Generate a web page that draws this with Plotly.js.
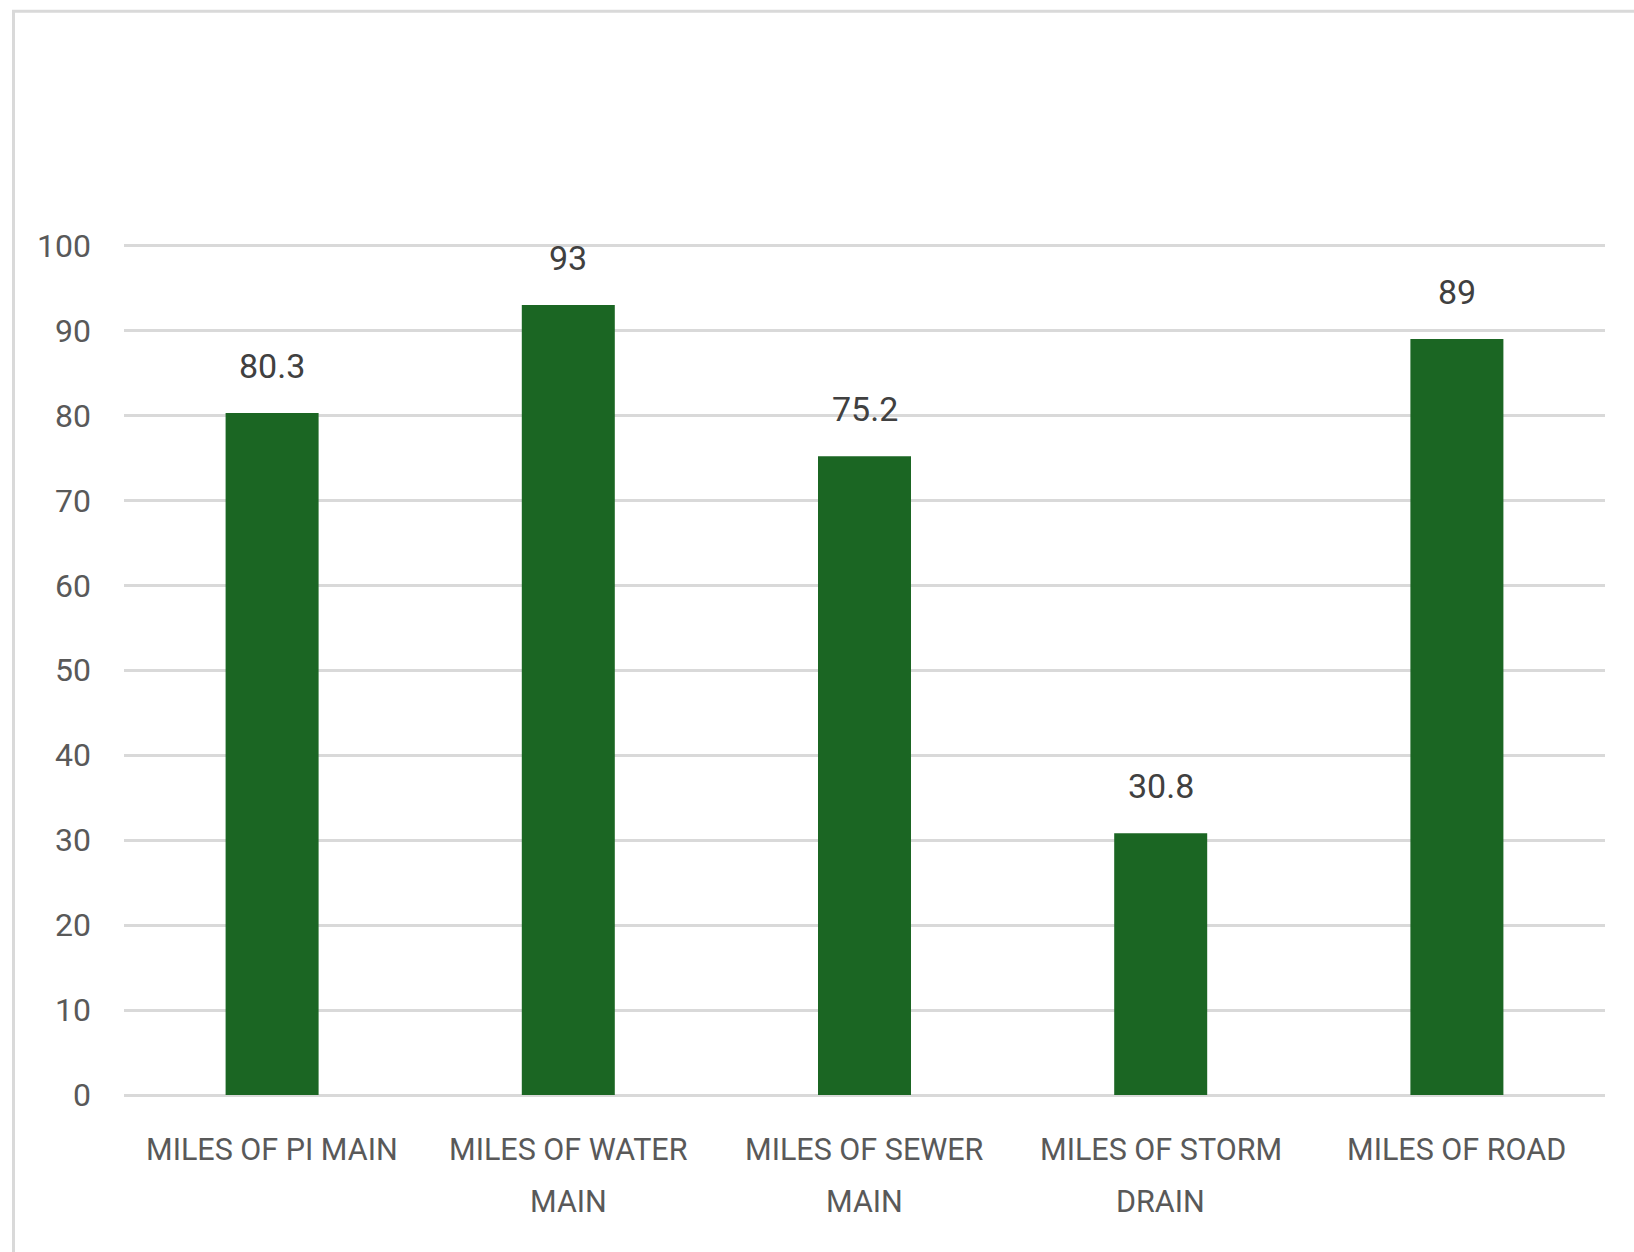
<!DOCTYPE html>
<html>
<head>
<meta charset="utf-8">
<script src="https://cdn.plot.ly/plotly-3.0.1.min.js"></script>
<style>
html,body{margin:0;padding:0;background:#fff;}
#chart{width:1634px;height:1252px;}
</style>
</head>
<body>
<div id="chart"></div>
<script>
const categories = ["MILES OF PI MAIN", "MILES OF WATER<br>MAIN", "MILES OF SEWER<br>MAIN", "MILES OF STORM<br>DRAIN", "MILES OF ROAD"];
const values = [80.3, 93, 75.2, 30.8, 89];
const valueLabels = ["80.3", "93", "75.2", "30.8", "89"];

const FONT = "Roboto, 'Liberation Sans', sans-serif";

const trace = {
  type: "bar",
  x: categories,
  y: values,
  marker: {color: "#1b6623", line: {width: 0}},
  hoverinfo: "x+y"
};

const annotations = categories.map((c, i) => ({
  x: c, y: values[i], xref: "x", yref: "y",
  text: valueLabels[i], showarrow: false,
  yanchor: "bottom", yshift: 25,
  font: {family: FONT, size: 34, color: "#404040"}
}));

// category labels, one annotation per text line
categories.forEach((c) => {
  c.split("<br>").forEach((line, k) => {
    annotations.push({
      x: c, y: 0, xref: "x", yref: "paper",
      text: line, showarrow: false,
      yanchor: "middle", yshift: -54 - 52 * k,
      font: {family: FONT, size: 30.5, color: "#595959"}
    });
  });
});

const layout = {
  width: 1634, height: 1252,
  margin: {l: 124, r: 29, t: 242.5, b: 156.5, pad: 0},
  paper_bgcolor: "#ffffff", plot_bgcolor: "#ffffff",
  showlegend: false,
  bargap: 0.686,
  xaxis: {
    type: "category",
    showgrid: false, zeroline: false, showline: false,
    ticks: "", showticklabels: false
  },
  yaxis: {
    range: [0, 100.3], tickvals: [0,10,20,30,40,50,60,70,80,90,100],
    showgrid: true, gridcolor: "#d9d9d9", gridwidth: 3,
    zeroline: true, zerolinecolor: "#d9d9d9", zerolinewidth: 3,
    showline: false, ticks: "", ticklabelstandoff: 32,
    tickfont: {family: FONT, size: 32, color: "#595959"},
    fixedrange: true
  },
  annotations: annotations,
  shapes: [{
    type: "rect", xref: "paper", yref: "paper",
    x0: -0.0746, x1: 1.05, y0: -0.25, y1: 1.272,
    line: {color: "#d9d9d9", width: 3}, fillcolor: "rgba(0,0,0,0)", layer: "below"
  }]
};

Plotly.newPlot("chart", [trace], layout, {displayModeBar: false, staticPlot: true});
</script>
</body>
</html>
